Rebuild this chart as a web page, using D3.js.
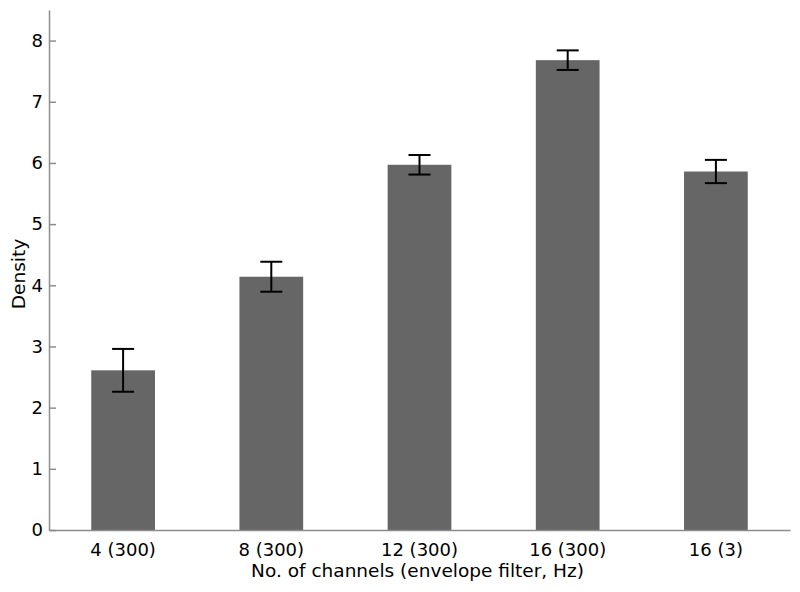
<!DOCTYPE html>
<html>
<head>
<meta charset="utf-8">
<script src="https://cdn.jsdelivr.net/npm/d3@7"></script>
<style>
  body { margin: 0; background: #fff; }
  text { font-family: "DejaVu Sans", Verdana, sans-serif; fill: #000; }
</style>
</head>
<body>
<svg id="chart" width="800" height="592"></svg>
<script>
// data
const categories = ["4 (300)", "8 (300)", "12 (300)", "16 (300)", "16 (3)"];
const densities = [2.61, 4.14, 5.97, 7.68, 5.86];
const errors = [0.35, 0.245, 0.16, 0.16, 0.19];
const yTicks = [0, 1, 2, 3, 4, 5, 6, 7, 8];

const svg = d3.select("#chart");
const margin = { left: 49, right: 10, top: 10, bottom: 62 };
const width = 800 - margin.left - margin.right;
const height = 592 - margin.top - margin.bottom;

const g = svg.append("g").attr("transform", `translate(${margin.left},${margin.top})`);

const x = d3.scaleBand().domain(categories).range([0, width]).paddingInner(0.57).paddingOuter(0.285);
const y = d3.scaleLinear().domain([0, 8.5]).range([height, 0]);

const data = categories.map((c, i) => ({ cat: c, v: densities[i], e: errors[i] }));

// bars
g.selectAll(".bar")
  .data(data)
  .enter()
  .append("rect")
  .attr("class", "bar")
  .attr("x", d => x(d.cat))
  .attr("y", d => y(d.v))
  .attr("width", x.bandwidth())
  .attr("height", d => y(0) - y(d.v))
  .attr("fill", "#666666");

// error bars
const eb = g.selectAll(".err").data(data).enter().append("g").attr("class", "err")
  .attr("stroke", "#000").attr("stroke-width", 2);
const cx = d => x(d.cat) + x.bandwidth() / 2;
const capW = 11;
eb.append("line").attr("x1", cx).attr("x2", cx)
  .attr("y1", d => y(d.v + d.e)).attr("y2", d => y(d.v - d.e));
eb.append("line").attr("x1", d => cx(d) - capW).attr("x2", d => cx(d) + capW)
  .attr("y1", d => y(d.v + d.e)).attr("y2", d => y(d.v + d.e));
eb.append("line").attr("x1", d => cx(d) - capW).attr("x2", d => cx(d) + capW)
  .attr("y1", d => y(d.v - d.e)).attr("y2", d => y(d.v - d.e));

// y axis, ticks point inward
const yAxis = g.append("g")
  .call(d3.axisLeft(y).tickValues(yTicks).tickSizeInner(-7).tickSizeOuter(0).tickPadding(6));
yAxis.select(".domain").attr("stroke", "#8c8c8c").attr("stroke-width", 1.5);
yAxis.selectAll(".tick line").attr("stroke", "#8c8c8c").attr("stroke-width", 1.5);
yAxis.selectAll(".tick text").style("font-size", "18px");

// x axis
const xAxis = g.append("g").attr("transform", `translate(0,${height})`)
  .call(d3.axisBottom(x).tickSize(0).tickPadding(13));
xAxis.select(".domain").attr("stroke", "#8c8c8c").attr("stroke-width", 1.5);
xAxis.selectAll(".tick text").style("font-size", "18px");

// axis titles
svg.append("text")
  .attr("x", margin.left + width / 2 - 2)
  .attr("y", 577)
  .attr("text-anchor", "middle")
  .style("font-size", "18.5px")
  .text("No. of channels (envelope filter, Hz)");

svg.append("text")
  .attr("transform", `translate(25,${margin.top + height / 2 + 4}) rotate(-90)`)
  .attr("text-anchor", "middle")
  .style("font-size", "18.5px")
  .text("Density");
</script>
</body>
</html>
